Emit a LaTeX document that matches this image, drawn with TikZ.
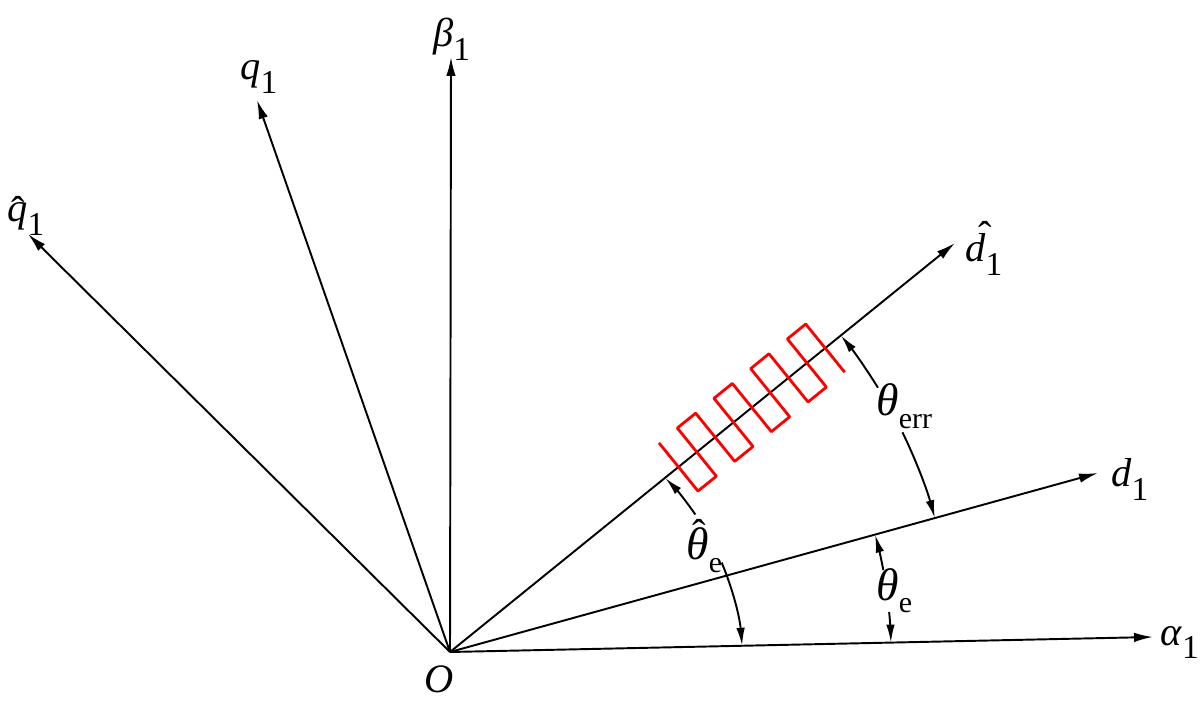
\documentclass[tikz,border=0pt]{standalone}
\usepackage{fontspec}
\setmainfont{Liberation Serif}
\usetikzlibrary{arrows.meta}
\newcommand\subone{\raisebox{-0.33em}{\fontsize{19}{19}\selectfont 1}}
\newcommand\subsm[1]{\raisebox{-0.32em}{\fontsize{17}{17}\selectfont #1}}
\newcommand\bigth{{\fontsize{26}{26}\selectfont\textit{θ}}}
\newcommand\hatit[3]{\leavevmode\setbox0\hbox{#3}\rlap{\hbox to\wd0{\hss\raisebox{#1}{\kern#2\char"02C6}\hss}}\box0}
\begin{document}
\begin{tikzpicture}[x=0.02cm,y=0.02cm,
 axis/.style={line width=1.1pt,-{Latex[length=0.38cm,width=0.19cm]}},
 marker/.style={line width=1.1pt,-{Latex[length=0.36cm,width=0.17cm]}},
 lbl/.style={inner sep=0pt,anchor=base west,font=\fontsize{23}{26}\selectfont},
 coil/.style={red,line width=1.6pt,line join=round}]
\useasboundingbox (0,0) rectangle (1200,700);
\coordinate (O) at (450,48);
\coordinate (a1) at (1153,63);
\coordinate (d1) at (1098,227);
\coordinate (dh) at (955,457);
\coordinate (b1) at (451,643);
\coordinate (q1) at (257,600);
\coordinate (qh) at (28,466);
\draw[axis] (O) -- (a1);
\draw[axis] (O) -- (d1);
\draw[axis] (O) -- (dh);
\draw[axis] (O) -- (b1);
\draw[axis] (O) -- (q1);
\draw[axis] (O) -- (qh);
% labels
\node[lbl] (LO) at (424,8) {\textit{O}};
\node[lbl] (La1) at (1160,55) {\textit{α}\subone};
\node[lbl] (Ld1) at (1111,213) {\textit{d}\subone};
\node[lbl] (Ldh) at (965,438) {\hatit{0.3em}{0.5em}{\textit{d}}\subone};
\node[lbl] (Lb1) at (433,653) {\textit{β}\subone};
\node[lbl] (Lq1) at (240,620) {\textit{q}\subone};
\node[lbl] (Lqh) at (7,478) {\hatit{-0.05em}{0.05em}{\textit{q}}\subone};
% coil
\begin{scope}[shift={(O)},rotate=39.0]
\draw[coil] (294,31) -- (294,-31) -- (317.6,-31) -- (317.6,31) -- (341.2,31) -- (341.2,-31)
 -- (364.8,-31) -- (364.8,31) -- (388.4,31) -- (388.4,-31) -- (412,-31) -- (412,31)
 -- (435.6,31) -- (435.6,-31) -- (459.2,-31) -- (459.2,31) -- (482.8,31) -- (482.8,-31);
\end{scope}
% theta_err
\draw[marker] ([shift={(31.7:503)}]O) arc[start angle=31.7,end angle=39.0,radius=503];
\draw[marker] ([shift={(25.9:503)}]O) arc[start angle=25.9,end angle=15.44,radius=503];
\node[lbl] (Lerr) at (876,284) {\bigth\subsm{err}};
% theta_e
\draw[marker] ([shift={(10.7:441)}]O) arc[start angle=10.7,end angle=15.44,radius=441];
\draw[marker] ([shift={(5.2:441)}]O) arc[start angle=5.2,end angle=1.22,radius=441];
\node[lbl] (Le) at (876,100) {\bigth\subsm{e}};
% theta_e hat
\coordinate (C) at (472,32);
\draw[marker] ([shift={(34.5:271)}]C) arc[start angle=34.5,end angle=44.5,radius=271];
\draw[marker] ([shift={(22.9:271)}]C) arc[start angle=22.9,end angle=4.7,radius=271];
\node[lbl] (Leh) at (686,140) {\hatit{0.3em}{0.1em}{\bigth}\subsm{e}};
\end{tikzpicture}
\end{document}
